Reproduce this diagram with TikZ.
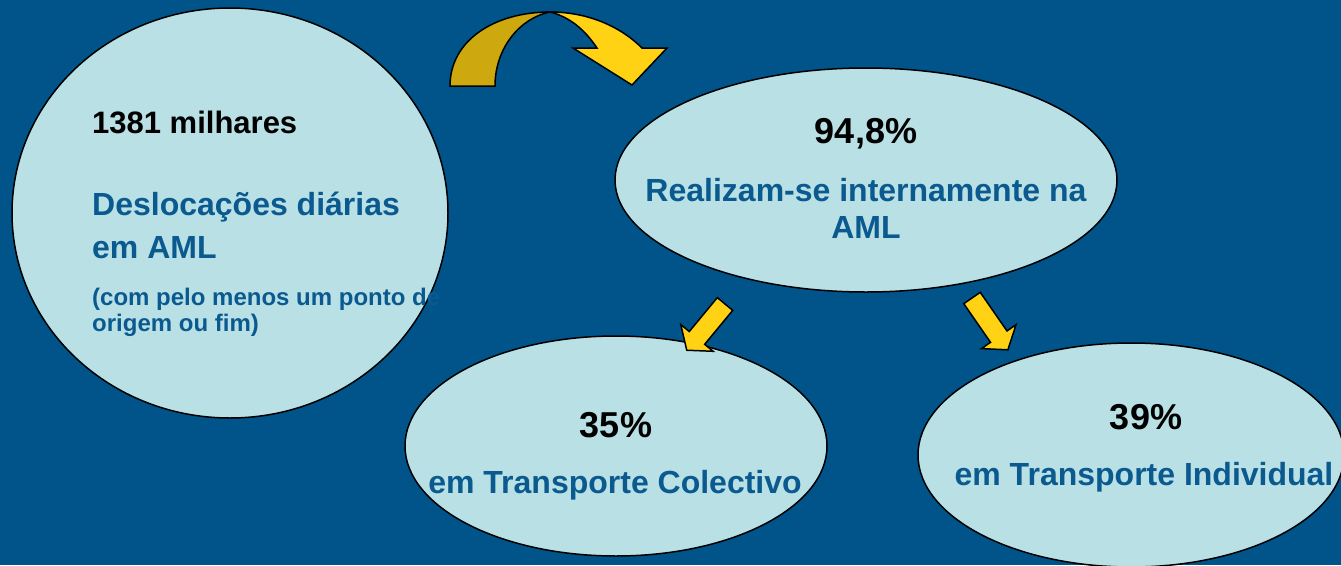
\documentclass[tikz,border=0pt]{standalone}
\usepackage{fontspec}
\setmainfont{Liberation Sans}
\usetikzlibrary{shapes.geometric}
\definecolor{bgblue}{RGB}{0,84,138}
\definecolor{txtblue}{RGB}{10,90,143}
\definecolor{bubblefill}{RGB}{185,224,228}
\definecolor{gold}{RGB}{205,168,15}
\definecolor{yel}{RGB}{255,211,20}
\tikzset{
  bubble/.style={ellipse, draw=black, line width=1.5pt, fill=bubblefill, inner sep=0pt},
  numtxt/.style={font=\fontsize{36}{40}\selectfont\bfseries, text=black, inner sep=0pt},
  blacktxt/.style={font=\fontsize{31}{36}\selectfont\bfseries, text=black, inner sep=0pt},
  bluetxt/.style={font=\fontsize{32}{37}\selectfont\bfseries, text=txtblue, inner sep=0pt},
  smalltxt/.style={font=\fontsize{24}{28}\selectfont\bfseries, text=txtblue, inner sep=0pt},
  arrowshape/.style={fill=yel, draw=black, line width=1.5pt, line join=miter},
}
\begin{document}
\begin{tikzpicture}[x=1pt,y=1pt]
\fill[bgblue] (0,0) rectangle (1341,-565);
\useasboundingbox (0,0) rectangle (1341,-565);

% ellipses
\node[bubble, minimum width=436pt, minimum height=410pt] (src) at (230,-213) {};
\node[bubble, minimum width=502pt, minimum height=224pt] (aml) at (866,-180) {};
\node[bubble, minimum width=422pt, minimum height=220pt] (col) at (616,-446) {};
\node[bubble, minimum width=426pt, minimum height=224pt] (ind) at (1131,-455) {};

% curved arrow
\draw[fill=gold, line width=1.5pt, line join=miter]
  (450,-86) .. controls (450,-40) and (495,-12) .. (550,-12)
  .. controls (520,-18) and (495,-48) .. (495,-86) -- cycle;
\draw[arrowshape]
  (550,-12) .. controls (590,-12) and (622,-28) .. (642,-48)
  -- (667,-48) -- (632,-85) -- (573,-48) -- (597,-48)
  .. controls (585,-30) and (570,-17) .. (550,-12) -- cycle;

% small arrows
\begin{scope}[shift={(725,-304)}, rotate=230.4]
  \draw[arrowshape] (0,10) -- (44,10) -- (44,21) -- (60,0) -- (44,-21) -- (44,-10) -- (0,-10) -- cycle;
\end{scope}
\begin{scope}[shift={(972,-298)}, rotate=-55.3]
  \draw[arrowshape] (0,10) -- (47,10) -- (47,21) -- (63,0) -- (47,-21) -- (47,-10) -- (0,-10) -- cycle;
\end{scope}

% texts in source circle
\node[blacktxt, anchor=base west] (t1) at (92,-133) {1381 milhares};
\node[bluetxt, anchor=base west] (t2) at (92,-215) {Deslocações diárias};
\node[bluetxt, anchor=base west] (t3) at (92,-258) {em AML};
\node[smalltxt, anchor=base west] (t4) at (92,-305) {(com pelo menos um ponto de};
\node[smalltxt, anchor=base west] (t5) at (92,-331) {origem ou fim)};

% texts in AML ellipse
\node[numtxt, anchor=base] (t6) at (866,-143) {94,8\%};
\node[bluetxt, anchor=base] (t7) at (866,-201) {Realizam-se internamente na};
\node[bluetxt, anchor=base] (t8) at (866,-238) {AML};

% texts in bottom ellipses
\node[numtxt, anchor=base] (t9) at (616,-437) {35\%};
\node[bluetxt, anchor=base] (t10) at (615,-493) {em Transporte Colectivo};
\node[numtxt, anchor=base] (t11) at (1146,-429) {39\%};
\node[bluetxt, anchor=base] (t12) at (1144,-485) {em Transporte Individual};
\end{tikzpicture}
\end{document}
